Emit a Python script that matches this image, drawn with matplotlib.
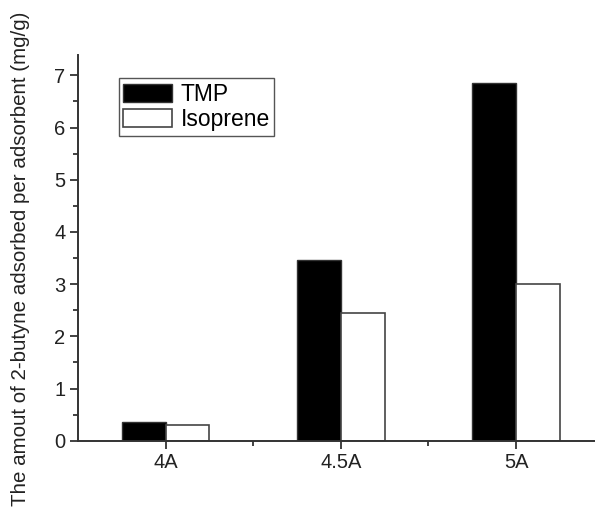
import matplotlib
matplotlib.use("Agg")
import matplotlib.pyplot as plt
import numpy as np
from matplotlib.ticker import MultipleLocator, FixedLocator

plt.rcParams['font.family'] = ['Liberation Sans', 'DejaVu Sans']

categories = ["4A", "4.5A", "5A"]
tmp_values = [0.36, 3.47, 6.86]
isoprene_values = [0.30, 2.45, 3.00]
series_names = ["TMP", "Isoprene"]

fig = plt.figure(figsize=(5.95, 5.08), dpi=100)
ax = fig.add_axes([0.131, 0.1325, 0.869, 0.7592])

x = np.arange(len(categories))
w = 0.25
ax.bar(x - w / 2, tmp_values, w, color="black", edgecolor="#333333", linewidth=1.0, label=series_names[0])
ax.bar(x + w / 2, isoprene_values, w, color="white", edgecolor="#444444", linewidth=1.2, label=series_names[1])

ax.set_xlim(-0.5, 2.45)
ax.set_ylim(0, 7.39)
ax.set_xticks(x)
ax.set_xticklabels(categories)
ax.xaxis.set_minor_locator(FixedLocator([0.5, 1.5]))
ax.yaxis.set_major_locator(MultipleLocator(1))
ax.yaxis.set_minor_locator(MultipleLocator(0.5))

for s in ["top", "right"]:
    ax.spines[s].set_visible(False)
for s in ["left", "bottom"]:
    ax.spines[s].set_color("#333333")
    ax.spines[s].set_linewidth(1.4)

ax.tick_params(axis="both", which="major", direction="out", length=6, width=1.3, color="#333333",
               labelsize=14.5, labelcolor="#222222", pad=3)
ax.tick_params(axis="both", which="minor", direction="out", length=3.5, width=1.3, color="#333333")

fig.text(21 / 595, 1 - 259 / 508, "The amout of 2-butyne adsorbed per adsorbent (mg/g)", rotation=90,
         ha="center", va="center", fontsize=14.8, color="#222222")

leg = ax.legend(loc="upper left", bbox_to_anchor=(0.079, 0.940), fontsize=16.5, frameon=True, fancybox=False,
                edgecolor="#555555", framealpha=1, borderpad=0.2, handlelength=2.14, handleheight=0.8,
                handletextpad=0.35, labelspacing=0.1, borderaxespad=0)
leg.get_frame().set_linewidth(1.0)

fig.savefig("out.png", dpi=100)
